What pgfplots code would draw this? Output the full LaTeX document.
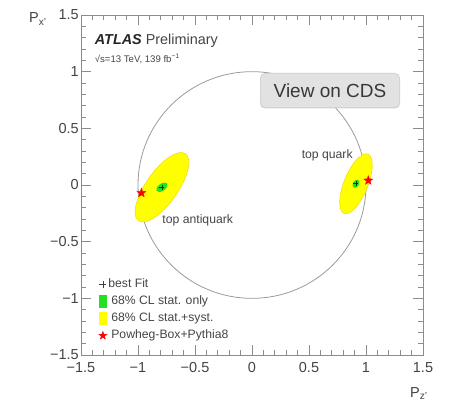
\documentclass[border=0pt]{standalone}
\usepackage{pgfplots}
\pgfplotsset{compat=1.18}
\usepackage{fontspec}
\setmainfont{Liberation Sans}
\definecolor{txt}{HTML}{444444}
\definecolor{axgray}{HTML}{8C8C8C}
\definecolor{circgray}{HTML}{9A9A9A}
\definecolor{rootyellow}{HTML}{FFFF00}
\definecolor{yedge}{HTML}{F2D200}
\definecolor{rootgreen}{HTML}{22E022}
\definecolor{cdsfill}{HTML}{E2E2E2}
\definecolor{cdsshadow}{HTML}{D2D2D2}

\pgfdeclareplotmark{fstar}{%
  \pgfpathmoveto{\pgfpointpolar{90}{\pgfplotmarksize}}%
  \pgfpathlineto{\pgfpointpolar{126}{0.42\pgfplotmarksize}}%
  \pgfpathlineto{\pgfpointpolar{162}{\pgfplotmarksize}}%
  \pgfpathlineto{\pgfpointpolar{198}{0.42\pgfplotmarksize}}%
  \pgfpathlineto{\pgfpointpolar{234}{\pgfplotmarksize}}%
  \pgfpathlineto{\pgfpointpolar{270}{0.42\pgfplotmarksize}}%
  \pgfpathlineto{\pgfpointpolar{306}{\pgfplotmarksize}}%
  \pgfpathlineto{\pgfpointpolar{342}{0.42\pgfplotmarksize}}%
  \pgfpathlineto{\pgfpointpolar{18}{\pgfplotmarksize}}%
  \pgfpathlineto{\pgfpointpolar{54}{0.42\pgfplotmarksize}}%
  \pgfpathclose\pgfusepathqfillstroke}

\begin{document}
\begin{tikzpicture}
\begin{axis}[
  at={(81pt,47pt)}, anchor=south west,
  scale only axis, width=342pt, height=340pt,
  xmin=-1.5, xmax=1.5, ymin=-1.5, ymax=1.5,
  xtick={-1.5,-1,-0.5,0,0.5,1,1.5},
  ytick={-1.5,-1,-0.5,0,0.5,1,1.5},
  xticklabels={−1.5,−1,−0.5,0,0.5,1,1.5},
  yticklabels={−1.5,−1,−0.5,0,0.5,1,1.5},
  minor tick num=0,
  major tick length=0pt,
  axis line style={draw=axgray, line width=0.8pt},
  ticklabel style={font=\fontsize{14.5}{16}\selectfont, text=txt},
  xticklabel style={anchor=north, inner sep=0pt, yshift=-7pt},
  yticklabel style={anchor=east, inner sep=0pt, xshift=-2pt},
  legend cell align=left,
  legend style={draw=none, fill=none, at={(axis cs:-1.345,-0.82)}, anchor=north west,
    font=\fontsize{12.2}{14}\selectfont, text=txt, inner sep=0pt, row sep=4pt, column sep=1pt,
    nodes={inner sep=0.5pt, text height=9pt, text depth=3pt}},
]
\addlegendimage{legend image code/.code={\draw[black!75, line width=0.6pt] (-3.5pt,0pt)--(3.5pt,0pt) (0pt,-3.5pt)--(0pt,3.5pt);}}
\addlegendentry{best Fit}
\addlegendimage{legend image code/.code={\fill[rootgreen] (-3.5pt,-6pt) rectangle (3.5pt,6pt);}}
\addlegendentry{\hspace{3pt}68\% CL stat. only}
\addlegendimage{legend image code/.code={\fill[rootyellow] (-3.5pt,-6pt) rectangle (3.5pt,6pt);}}
\addlegendentry{\hspace{3pt}68\% CL stat.+syst.}
\addlegendimage{legend image code/.code={\begin{scope}[red, fill=red, mark size=4.2pt]\pgfuseplotmark{fstar}\end{scope}}}
\addlegendentry{\hspace{3pt}Powheg-Box+Pythia8}

% unit circle
\draw[circgray, line width=0.8pt] (axis cs:0,0) ellipse [x radius=1, y radius=1];

% 68% CL stat.+syst. ellipses
\filldraw[fill=rootyellow, draw=yedge, line width=0.4pt, rotate around={55:(axis cs:-0.79,-0.02)}]
  (axis cs:-0.79,-0.02) ellipse [x radius=41pt, y radius=16pt];
\filldraw[fill=rootyellow, draw=yedge, line width=0.4pt, rotate around={68:(axis cs:0.912,0.011)}]
  (axis cs:0.912,0.011) ellipse [x radius=32pt, y radius=12pt];
% 68% CL stat. only ellipses
\fill[rootgreen, rotate around={35:(axis cs:-0.79,-0.02)}]
  (axis cs:-0.79,-0.02) ellipse [x radius=6.5pt, y radius=3.6pt];
\fill[rootgreen, rotate around={60:(axis cs:0.912,0.011)}]
  (axis cs:0.912,0.011) ellipse [x radius=4.5pt, y radius=3pt];

% best fit
\addplot[only marks, mark=+, mark size=2.5pt, black!60!green!60!black, mark options={line width=0.6pt}, forget plot]
  coordinates {(-0.79,-0.02) (0.912,0.011)};
% Powheg-Box+Pythia8
\addplot[only marks, mark=fstar, mark size=4.8pt, red, mark options={fill=red, line width=0.3pt}, forget plot]
  coordinates {(-0.97,-0.07) (1.02,0.04)};

\node[text=txt, font=\fontsize{12.2}{14}\selectfont] at (axis cs:0.66,0.26) {top quark};
\node[text=txt, font=\fontsize{12.2}{14}\selectfont] at (axis cs:-0.476,-0.31) {top antiquark};
\node[anchor=base west, inner sep=0pt, text=txt, font=\fontsize{14.4}{16}\selectfont]
  at (axis cs:-1.38,1.24) {\textcolor{black!85}{\textbf{\textit{ATLAS}}} Preliminary};
\node[anchor=base west, inner sep=0pt, text=txt, font=\fontsize{9.6}{11}\selectfont]
  at (axis cs:-1.38,1.08) {√s=13 TeV, 139 fb\textsuperscript{−1}};

% ROOT-style inward ticks on all four sides
\pgfplotsinvokeforeach{-1,-0.5,0,0.5,1}{
  \draw[axgray, line width=0.8pt] (axis cs:#1,-1.5) -- ++(0pt,10pt);
  \draw[axgray, line width=0.8pt] (axis cs:#1,1.5) -- ++(0pt,-10pt);
  \draw[axgray, line width=0.8pt] (axis cs:-1.5,#1) -- ++(10pt,0pt);
  \draw[axgray, line width=0.8pt] (axis cs:1.5,#1) -- ++(-10pt,0pt);
}
\pgfplotsinvokeforeach{-1.4,-1.3,-1.2,-1.1,-0.9,-0.8,-0.7,-0.6,-0.4,-0.3,-0.2,-0.1,0.1,0.2,0.3,0.4,0.6,0.7,0.8,0.9,1.1,1.2,1.3,1.4}{
  \draw[axgray, line width=0.8pt] (axis cs:#1,-1.5) -- ++(0pt,5pt);
  \draw[axgray, line width=0.8pt] (axis cs:#1,1.5) -- ++(0pt,-5pt);
  \draw[axgray, line width=0.8pt] (axis cs:-1.5,#1) -- ++(5pt,0pt);
  \draw[axgray, line width=0.8pt] (axis cs:1.5,#1) -- ++(-5pt,0pt);
}
\end{axis}

\node[anchor=base west, inner sep=0pt, text=txt, font=\fontsize{14.5}{16}\selectfont]
  at (29pt,379pt) {P\textsubscript{x'}};
\node[anchor=base west, inner sep=0pt, text=txt, font=\fontsize{14.5}{16}\selectfont]
  at (410pt,5pt) {P\textsubscript{z'}};

\fill[cdsshadow, rounded corners=5pt] (260pt,293.5pt) rectangle (400pt,329pt);
\node[fill=cdsfill, rounded corners=4pt, minimum width=138pt, minimum height=33pt,
  text=black!78, font=\fontsize{19}{22}\selectfont]
  at (330pt,311.5pt) {View on CDS};
\path (0pt,0pt) (449pt,402pt);
\end{tikzpicture}
\end{document}
